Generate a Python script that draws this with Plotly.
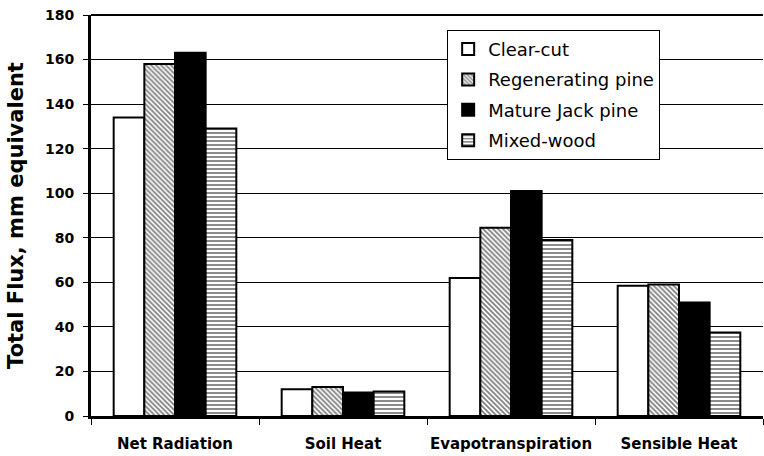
import plotly.graph_objects as go

categories = ["Net Radiation", "Soil Heat", "Evapotranspiration", "Sensible Heat"]
clear_cut = [134, 12, 62, 58.5]
regenerating_pine = [158, 13, 84.5, 59]
mature_jack_pine = [163, 10.5, 101, 51]
mixed_wood = [129, 11, 79, 37.5]
y_ticks = [0, 20, 40, 60, 80, 100, 120, 140, 160, 180]

FONT = "DejaVu Sans, Arial, sans-serif"

fig = go.Figure()
series = [
    ("Clear-cut", clear_cut, dict(color="white")),
    ("Regenerating pine", regenerating_pine,
     dict(color="white", pattern=dict(shape="\\", fgcolor="black", bgcolor="white", size=3.5, solidity=0.5))),
    ("Mature Jack pine", mature_jack_pine, dict(color="black")),
    ("Mixed-wood", mixed_wood,
     dict(color="white", pattern=dict(shape="-", fgcolor="black", bgcolor="white", size=4, solidity=0.45))),
]
for name, vals, mk in series:
    mk = dict(mk)
    mk["line"] = dict(color="black", width=2)
    fig.add_trace(go.Bar(name=name, x=categories, y=vals, marker=mk, legendgroup=name))

fig.update_layout(
    width=764, height=456,
    margin=dict(l=91, r=1, t=15, b=40),
    paper_bgcolor="white", plot_bgcolor="white",
    barmode="group", bargap=0.27, bargroupgap=0,
    font=dict(family=FONT, color="black"),
    showlegend=True,
    legend=dict(
        x=0.53, y=0.963, xanchor="left", yanchor="top",
        bgcolor="white", bordercolor="black", borderwidth=1,
        font=dict(size=18, family=FONT, color="black"),
        tracegroupgap=4, itemwidth=30,
    ),
)
fig.update_xaxes(
    automargin=False,
    showline=True, linecolor="black", linewidth=3,
    ticks="outside", tickson="boundaries", ticklen=6, tickcolor="black", tickwidth=1,
    tickfont=dict(size=15, family=FONT, color="black", weight="bold"),
    tickangle=0,
    ticklabelstandoff=12,
    showgrid=False,
)
fig.update_yaxes(
    automargin=False,
    range=[0, 180], tickvals=y_ticks,
    showline=True, linecolor="black", linewidth=3,
    ticks="outside", ticklen=5, tickcolor="black", tickwidth=1,
    tickfont=dict(size=14, family=FONT, color="black", weight="bold"),
    ticklabelstandoff=6,
    showgrid=True, gridcolor="black", gridwidth=1,
    title=dict(text="Total Flux, mm equivalent", font=dict(size=21, family=FONT, color="black", weight="bold"), standoff=16),
    zeroline=False,
)
fig.add_shape(type="line", xref="paper", yref="paper", x0=0, x1=1, y0=1, y1=1,
              line=dict(color="black", width=2))

fig.write_html("out.html", config={"displayModeBar": False},
               post_script="document.body.style.margin='0';")
